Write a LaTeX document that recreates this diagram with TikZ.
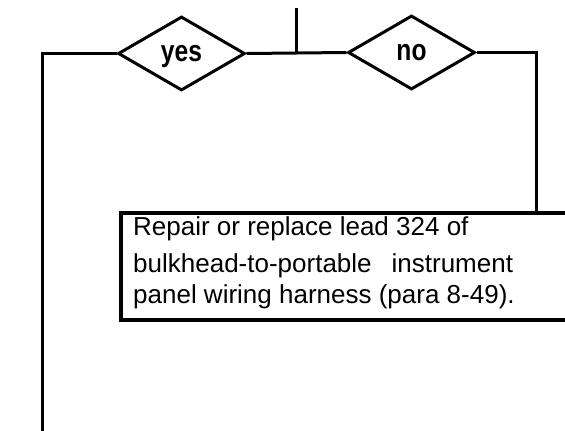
\documentclass[tikz,border=0pt]{standalone}
\usepackage{fontspec}
\setmainfont{Liberation Sans}
\usetikzlibrary{shapes.geometric}
\newcommand{\choicetext}[1]{\scalebox{0.82}[1]{\bfseries #1}}
\begin{document}
\begin{tikzpicture}[x=1pt,y=-1pt,
  wire/.style={line width=3pt},
  choice/.style={draw,diamond,line width=3pt,minimum width=127pt,minimum height=74pt,inner sep=0pt,text depth=0pt,font=\fontsize{30}{34}\selectfont},
  actbox/.style={draw,rectangle,line width=3.5pt,minimum width=480pt,minimum height=107pt,anchor=north west,inner sep=0pt},
  boxline/.style={anchor=base west,inner sep=0pt,font=\fontsize{26}{30}\selectfont}]
\useasboundingbox (0,0) rectangle (565,431);
\clip (0,0) rectangle (565,431);
\node[choice] (yes) at (181.5,53.5) {\choicetext{yes}};
\node[choice] (no) at (411.5,52.5) {\choicetext{no}};
\coordinate (top) at (296,8);
\coordinate (junc) at (296,53);
\coordinate (lbot) at (42,432);
\coordinate (rdrop) at (536,211);
\node[actbox] (box) at (119,211) {};
\node[boxline] (l1) at (133,235) {Repair or replace lead 324 of};
\node[boxline] (l2) at (133,272) {bulkhead-to-portable\hspace{20pt}instrument};
\node[boxline] (l3) at (133,303) {panel wiring harness (para 8-49).};
\draw[wire] (top) -- (junc);
\draw[wire] (yes.east) -- (no.west);
\draw[wire] (yes.west) -| (lbot);
\draw[wire] (no.east) -| (rdrop);
\end{tikzpicture}
\end{document}
